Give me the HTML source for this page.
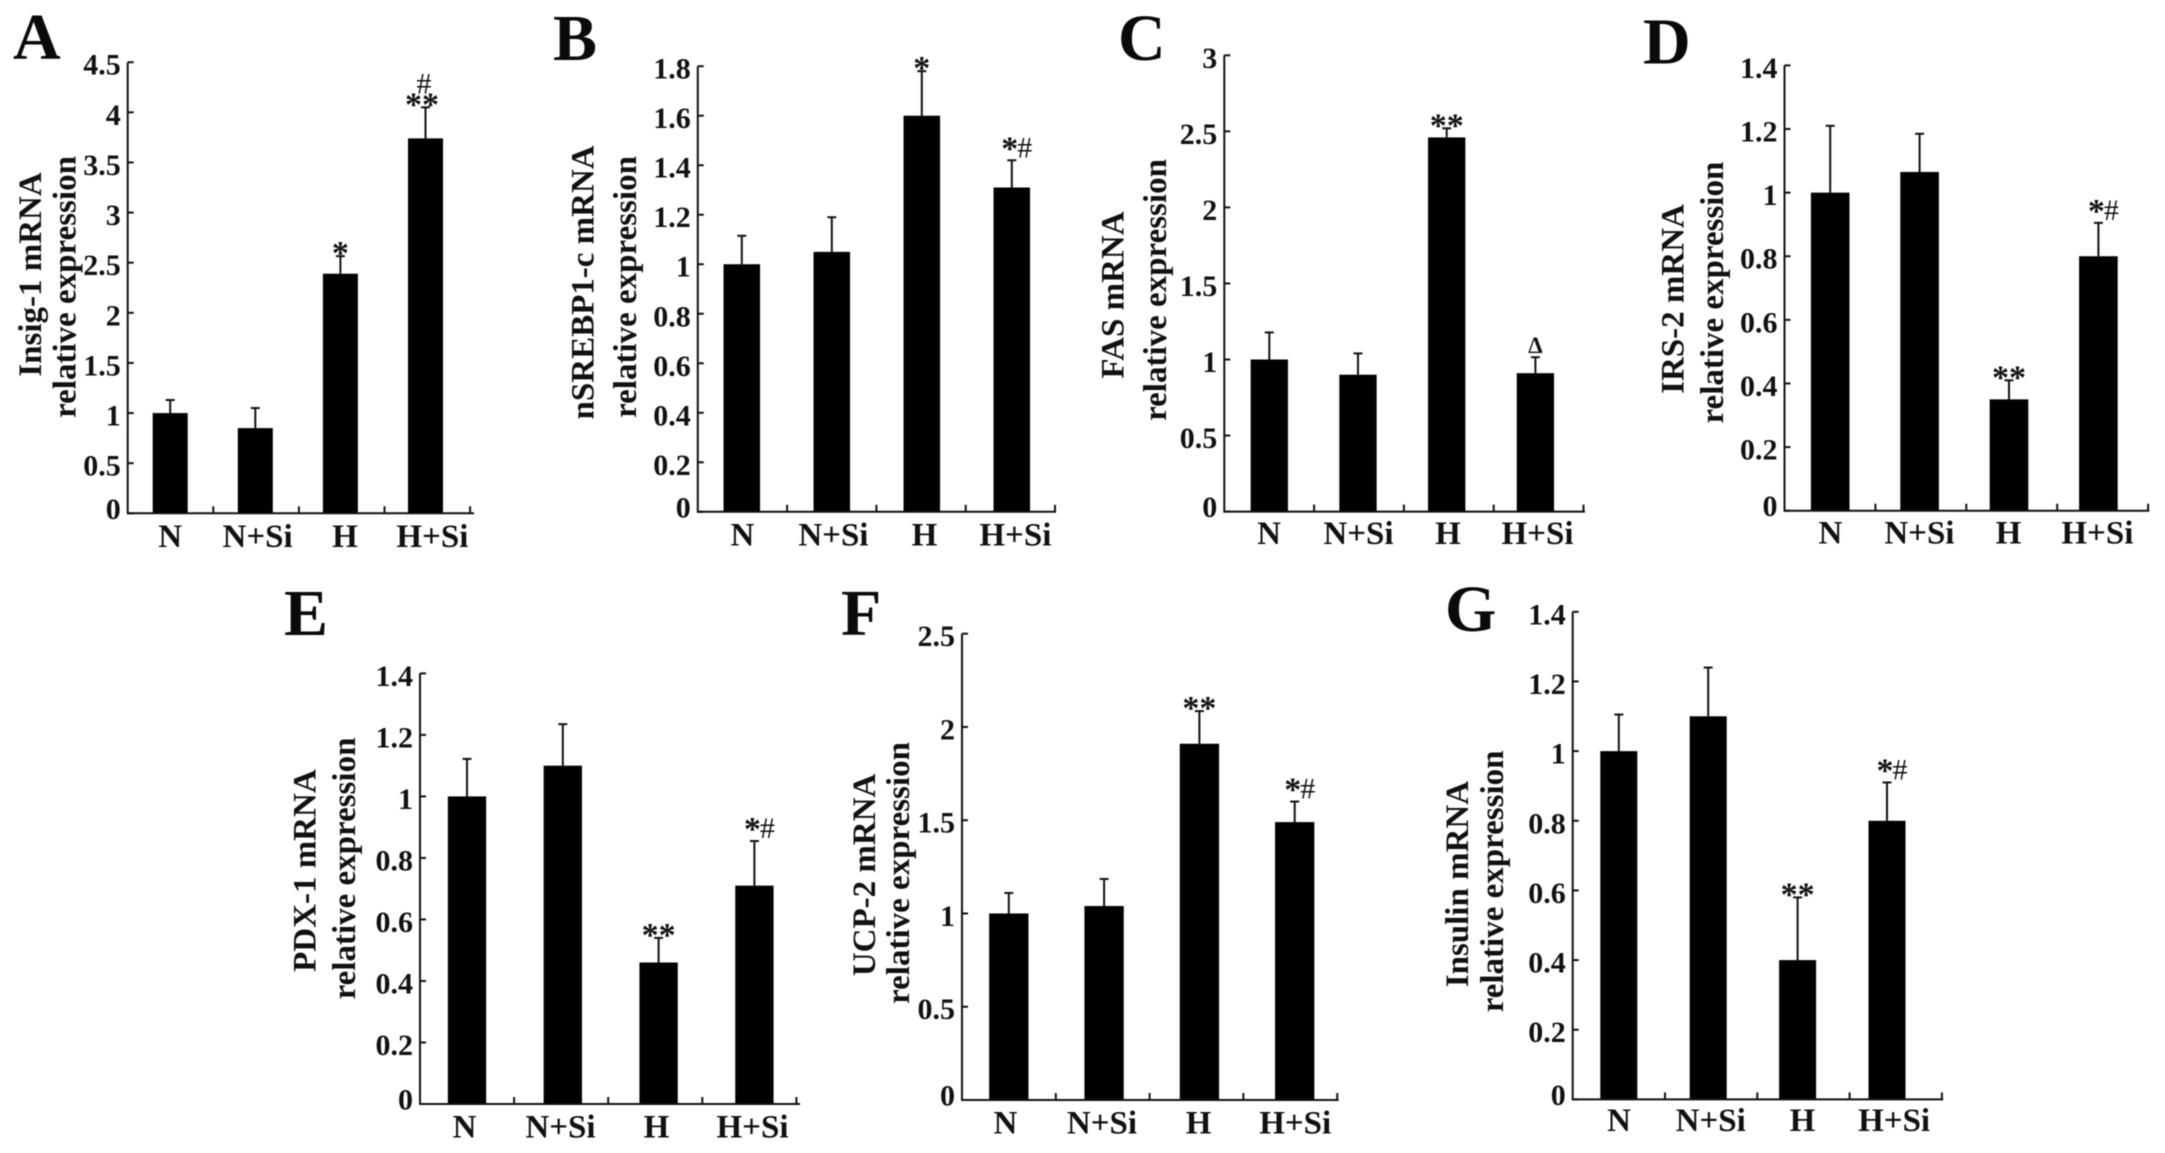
<!DOCTYPE html>
<html lang="en">
<head>
<meta charset="utf-8">
<title>mRNA relative expression panels</title>
<style>
html,body{margin:0;padding:0;background:#fff;}
svg{display:block;font-family:"Liberation Serif",serif;filter:blur(0.4px);}
.letter{font-size:66px;font-weight:bold;fill:#0a0a0a;}
.ytitle{font-size:33px;font-weight:bold;fill:#111;text-anchor:middle;}
.tick{font-size:30px;font-weight:bold;fill:#111;text-anchor:end;}
.cat{font-size:33px;font-weight:bold;fill:#111;text-anchor:middle;}
.sig{font-size:34px;font-weight:bold;fill:#111;text-anchor:middle;}
.hash{font-size:30px;fill:#111;text-anchor:middle;}
.delta{font-size:23px;font-weight:bold;fill:#111;text-anchor:middle;}
</style>
</head>
<body>
<svg id="figure" xmlns="http://www.w3.org/2000/svg" width="2165" height="1153" viewBox="0 0 2165 1153">
<rect x="0" y="0" width="2165" height="1153" fill="#fff"/>

<g id="panel-A">
  <text class="letter" x="13" y="58.9">A</text>
  <text class="ytitle" transform="translate(41 274.5) rotate(-90)">Insig-1 mRNA</text>
  <text class="ytitle" transform="translate(75.4 287) rotate(-90)">relative expression</text>
</g>
<g id="panel-B">
  <text class="letter" x="553" y="60">B</text>
  <text class="ytitle" transform="translate(593.6 282.4) rotate(-90)">nSREBP1-c mRNA</text>
  <text class="ytitle" transform="translate(636.2 287) rotate(-90)">relative expression</text>
</g>
<g id="panel-C">
  <text class="letter" x="1118" y="60">C</text>
  <text class="ytitle" transform="translate(1123.3 295) rotate(-90)">FAS mRNA</text>
  <text class="ytitle" transform="translate(1165.8 290) rotate(-90)">relative expression</text>
</g>
<g id="panel-D">
  <text class="letter" x="1643" y="63.6">D</text>
  <text class="ytitle" transform="translate(1683.3 299) rotate(-90)">IRS-2 mRNA</text>
  <text class="ytitle" transform="translate(1723 292.6) rotate(-90)">relative expression</text>
</g>
<g id="panel-E">
  <text class="letter" x="284" y="634.8">E</text>
  <text class="ytitle" transform="translate(315.7 870.6) rotate(-90)">PDX-1 mRNA</text>
  <text class="ytitle" transform="translate(354.8 868.5) rotate(-90)">relative expression</text>
</g>
<g id="panel-F">
  <text class="letter" x="841" y="634.8">F</text>
  <text class="ytitle" transform="translate(875 874.9) rotate(-90)">UCP-2 mRNA</text>
  <text class="ytitle" transform="translate(908.9 873) rotate(-90)">relative expression</text>
</g>
<g id="panel-G">
  <text class="letter" x="1445" y="631.2">G</text>
  <text class="ytitle" transform="translate(1467.8 884.1) rotate(-90)">Insulin mRNA</text>
  <text class="ytitle" transform="translate(1503 881.4) rotate(-90)">relative expression</text>
</g>
</svg>

<script>
const categories = ['N', 'N+Si', 'H', 'H+Si'];

const tickLabelsA = ['0', '0.5', '1', '1.5', '2', '2.5', '3', '3.5', '4', '4.5'];
const valuesA = [1.0, 0.85, 2.39, 3.74];
const errorsA = [0.13, 0.20, 0.175, 0.31];
const marksA = ['', '', '*', '**/#'];

const tickLabelsB = ['0', '0.2', '0.4', '0.6', '0.8', '1', '1.2', '1.4', '1.6', '1.8'];
const valuesB = [1.0, 1.05, 1.6, 1.31];
const errorsB = [0.115, 0.14, 0.18, 0.11];
const marksB = ['', '', '*', '*#'];

const tickLabelsC = ['0', '0.5', '1', '1.5', '2', '2.5', '3'];
const valuesC = [1.0, 0.9, 2.46, 0.91];
const errorsC = [0.178, 0.14, 0.06, 0.105];
const marksC = ['', '', '**', 'delta'];

const tickLabelsD = ['0', '0.2', '0.4', '0.6', '0.8', '1', '1.2', '1.4'];
const valuesD = [1.0, 1.065, 0.35, 0.8];
const errorsD = [0.21, 0.12, 0.06, 0.105];
const marksD = ['', '', '**', '*#'];

const tickLabelsE = ['0', '0.2', '0.4', '0.6', '0.8', '1', '1.2', '1.4'];
const valuesE = [1.0, 1.1, 0.46, 0.71];
const errorsE = [0.122, 0.135, 0.08, 0.145];
const marksE = ['', '', '**', '*#'];

const tickLabelsF = ['0', '0.5', '1', '1.5', '2', '2.5'];
const valuesF = [1.0, 1.04, 1.91, 1.49];
const errorsF = [0.11, 0.145, 0.175, 0.11];
const marksF = ['', '', '**', '*#'];

const tickLabelsG = ['0', '0.2', '0.4', '0.6', '0.8', '1', '1.2', '1.4'];
const valuesG = [1.0, 1.1, 0.4, 0.8];
const errorsG = [0.105, 0.14, 0.18, 0.11];
const marksG = ['', '', '**', '*#'];

const panels = [
  {id:'A', ticks:tickLabelsA, values:valuesA, errors:errorsA, marks:marksA, left:127.7, right:474, top:62.2, bottom:513.3, tickStep:85.6, barStart:170.2, barStep:85.1, barWidth:35, catStart:170.2, catStep:87.4, catBase:547},
  {id:'B', ticks:tickLabelsB, values:valuesB, errors:errorsB, marks:marksB, left:697.8, right:1056, top:66.2, bottom:511.8, tickStep:89.3, barStart:741.8, barStep:90, barWidth:36.5, catStart:742.4, catStep:91, catBase:545.3},
  {id:'C', ticks:tickLabelsC, values:valuesC, errors:errorsC, marks:marksC, left:1224.3, right:1585, top:55.3, bottom:511.6, tickStep:89.8, barStart:1269.3, barStep:88.7, barWidth:37.3, catStart:1269, catStep:89.5, catBase:544.2},
  {id:'D', ticks:tickLabelsD, values:valuesD, errors:errorsD, marks:marksD, left:1784.5, right:2149.4, top:65.4, bottom:510.7, tickStep:90.9, barStart:1830.2, barStep:89.4, barWidth:38.6, catStart:1830.4, catStep:89, catBase:543.4},
  {id:'E', ticks:tickLabelsE, values:valuesE, errors:errorsE, marks:marksE, left:420, right:800, top:673.4, bottom:1104, tickStep:94.1, barStart:467, barStep:95.8, barWidth:38.3, catStart:464.5, catStep:96, catBase:1137.4},
  {id:'F', ticks:tickLabelsF, values:valuesF, errors:errorsF, marks:marksF, left:962, right:1338.7, top:633.7, bottom:1100, tickStep:93.8, barStart:1008.8, barStep:95.3, barWidth:39.3, catStart:1005.4, catStep:96.6, catBase:1133.7},
  {id:'G', ticks:tickLabelsG, values:valuesG, errors:errorsG, marks:marksG, left:1572.7, right:1943.2, top:611.8, bottom:1099.4, tickStep:92.3, barStart:1618.8, barStep:89.4, barWidth:37, catStart:1619, catStep:91.7, catBase:1131.2}
];

const SVG_NS = 'http://www.w3.org/2000/svg';
const INK = '#111';

function node(parent, tag, attrs, text) {
  const el = document.createElementNS(SVG_NS, tag);
  for (const key in attrs) el.setAttribute(key, attrs[key]);
  if (text !== undefined) el.textContent = text;
  parent.appendChild(el);
  return el;
}

function drawPanel(p) {
  const g = document.getElementById('panel-' + p.id);
  const low = p.id.toLowerCase();
  const tickValues = p.ticks.map(Number);
  const maxValue = Math.max.apply(null, tickValues);
  const yScale = function (v) { return p.bottom - (v / maxValue) * (p.bottom - p.top); };
  const xBar = function (i) { return p.barStart + i * p.barStep; };
  const xCat = function (i) { return p.catStart + i * p.catStep; };
  const xTick = function (i) { return p.left + i * p.tickStep; };

  p.values.forEach(function (value, i) {
    const cx = xBar(i);
    const yv = yScale(value);
    const ye = yScale(value + p.errors[i]);

    const stem = node(g, 'line', {x1:cx, x2:cx, y1:yv, y2:ye, stroke:INK, 'stroke-width':2});
    
    

    const cap = node(g, 'line', {x1:cx - 4.5, x2:cx + 4.5, y1:ye, y2:ye, stroke:INK, 'stroke-width':2});
    
    

    const bar = node(g, 'rect', {x:cx - p.barWidth / 2, y:yv, width:p.barWidth, height:p.bottom - yv, fill:'#000'});
    
    

    const mark = p.marks[i];
    if (mark === '*' || mark === '**') {
      const stars = node(g, 'text', {class:'sig', x:cx, y:ye + 8}, mark);
      
      
    } else if (mark === '*#') {
      const star = node(g, 'text', {class:'sig', x:cx - 2, y:ye - 1}, '*');
      
      
      const hash = node(g, 'text', {class:'hash', x:cx + 13, y:ye - 3}, '#');
      
      
    } else if (mark === '**/#') {
      const stars2 = node(g, 'text', {class:'sig', x:cx - 3.5, y:ye + 8}, '**');
      
      
      const hash2 = node(g, 'text', {class:'hash', x:cx - 1.5, y:ye - 14}, '#');
      
      
    } else if (mark === 'delta') {
      const delta = node(g, 'text', {class:'delta', x:cx, y:ye - 4}, '\u0394');
      
      
    }

    const label = node(g, 'text', {class:'cat', x:xCat(i), y:p.catBase}, categories[i]);
    
    

    const xt = xTick(i + 1);
    const xTickMark = node(g, 'line', {x1:xt, x2:xt, y1:p.bottom, y2:p.bottom - 7, stroke:INK, 'stroke-width':2});
    
    
  });

  p.ticks.forEach(function (labelText, i) {
    const y = yScale(tickValues[i]);
    const yTickMark = node(g, 'line', {x1:p.left, x2:p.left + 6, y1:y, y2:y, stroke:INK, 'stroke-width':2});
    
    

    const yLabel = node(g, 'text', {class:'tick', x:p.left - 7, y:y + (i === 0 ? 5.5 : 12.5)}, labelText);
    
    
  });

  const yAxis = node(g, 'line', {x1:p.left, x2:p.left, y1:p.top, y2:p.bottom + 1, stroke:INK, 'stroke-width':2});
  
  

  const xAxis = node(g, 'line', {x1:p.left, x2:p.right, y1:p.bottom, y2:p.bottom, stroke:INK, 'stroke-width':2});
  
  
}

panels.forEach(drawPanel);
</script>
</body>
</html>
